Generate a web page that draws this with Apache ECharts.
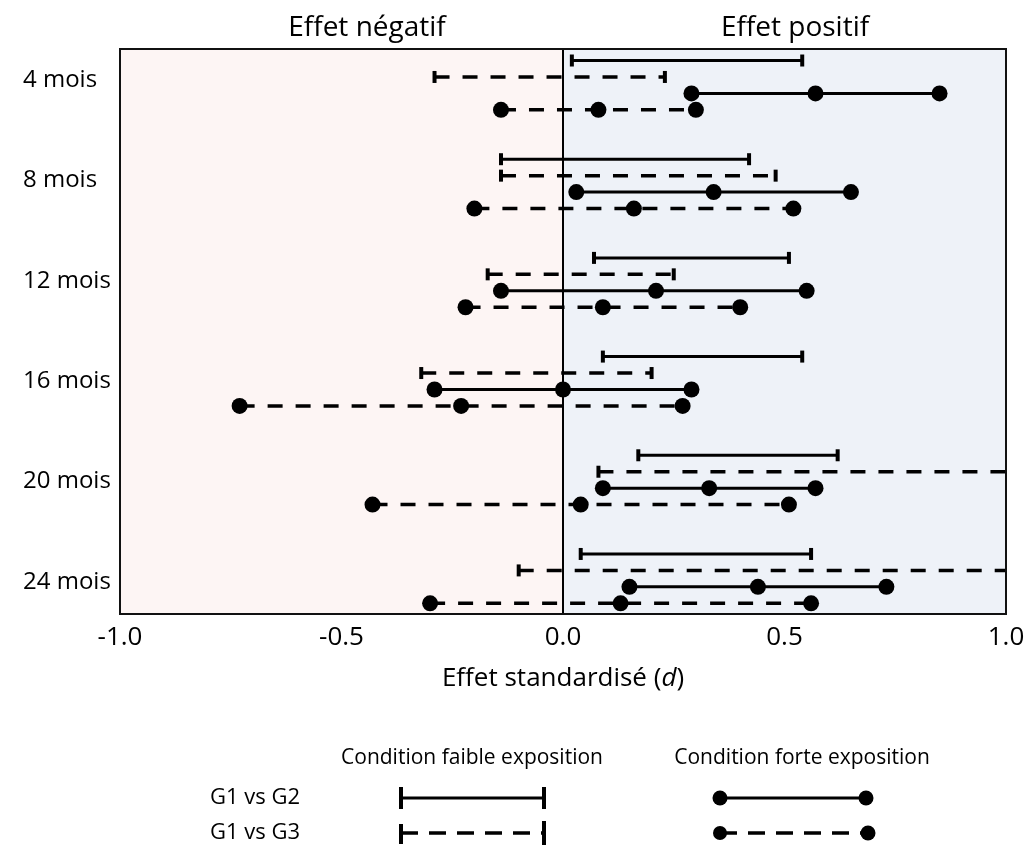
<!DOCTYPE html>
<html>
<head>
<meta charset="utf-8">
<script src="https://cdn.jsdelivr.net/npm/echarts@6/dist/echarts.min.js"></script>
<style>
html,body{margin:0;padding:0;background:#fff;}
#chart{width:1028px;height:851px;}
</style>
</head>
<body>
<div id="chart"></div>
<script>
// ---- data ----
const categories = ['4 mois','8 mois','12 mois','16 mois','20 mois','24 mois'];
const xTicks = ['-1.0','-0.5','0.0','0.5','1.0'];
// Condition faible exposition (intervals only)
const weakG2Low  = [0.02, -0.14, 0.07, 0.09, 0.17, 0.04];
const weakG2High = [0.54,  0.42, 0.51, 0.54, 0.62, 0.56];
const weakG3Low  = [-0.29, -0.14, -0.17, -0.32, 0.08, -0.10];
const weakG3High = [0.23,  0.48,  0.25,  0.20, 1.10, 1.10];
// Condition forte exposition (low, estimate, high)
const strongG2Low  = [0.29, 0.03, -0.14, -0.29, 0.09, 0.15];
const strongG2Mid  = [0.57, 0.34,  0.21,  0.00, 0.33, 0.44];
const strongG2High = [0.85, 0.65,  0.55,  0.29, 0.57, 0.73];
const strongG3Low  = [-0.14, -0.20, -0.22, -0.73, -0.43, -0.30];
const strongG3Mid  = [0.08,  0.16,  0.09, -0.23,  0.04,  0.13];
const strongG3High = [0.30,  0.52,  0.40,  0.27,  0.51,  0.56];

const FONT = '"Open Sans", "Noto Sans", sans-serif';
const ROWS_PER_GROUP = 6;

function rowOf(g, k){ return g*ROWS_PER_GROUP + k; }

function weakData(lo, hi, k){
  return categories.map((c,g)=>[lo[g], hi[g], rowOf(g,k)]);
}
function strongData(lo, mid, hi, k){
  return categories.map((c,g)=>[lo[g], mid[g], hi[g], rowOf(g,k)]);
}

function weakRender(dashed){
  return function(params, api){
    const y = api.value(2);
    const a = api.coord([api.value(0), y]);
    const b = api.coord([api.value(1), y]);
    const lw = dashed ? 3.5 : 3;
    const capH = 12;
    return {type:'group', children:[
      {type:'line', shape:{x1:a[0],y1:a[1],x2:b[0],y2:b[1]},
       style:{stroke:'#000', lineWidth:lw, lineDash: dashed?[15,13]:null}},
      {type:'line', shape:{x1:a[0],y1:a[1]-capH/2,x2:a[0],y2:a[1]+capH/2},
       style:{stroke:'#000', lineWidth:4}},
      {type:'line', shape:{x1:b[0],y1:b[1]-capH/2,x2:b[0],y2:b[1]+capH/2},
       style:{stroke:'#000', lineWidth:4}}
    ]};
  };
}
function strongRender(dashed){
  return function(params, api){
    const y = api.value(3);
    const a = api.coord([api.value(0), y]);
    const m = api.coord([api.value(1), y]);
    const b = api.coord([api.value(2), y]);
    const r = 8;
    const lw = dashed ? 3.5 : 3;
    return {type:'group', children:[
      {type:'line', shape:{x1:a[0],y1:a[1],x2:b[0],y2:b[1]},
       style:{stroke:'#000', lineWidth:lw, lineDash: dashed?[15,13]:null}},
      {type:'circle', shape:{cx:a[0],cy:a[1],r:r}, style:{fill:'#000'}},
      {type:'circle', shape:{cx:m[0],cy:m[1],r:r}, style:{fill:'#000'}},
      {type:'circle', shape:{cx:b[0],cy:b[1],r:r}, style:{fill:'#000'}}
    ]};
  };
}

const chart = echarts.init(document.getElementById('chart'), null, {renderer:'canvas'});

function txt(text, x, y, size, align){
  return {type:'text', style:{text:text, x:x, y:y, textAlign:align||'center', textVerticalAlign:'middle', fontSize:size, fontFamily:FONT, fill:'#000'}};
}

const option = {
  backgroundColor:'#fff',
  animation:false,
  grid:{left:120, right:22, top:49, bottom:237, show:true, borderColor:'#111', borderWidth:2, backgroundColor:'transparent', z:10},
  xAxis:{
    type:'value', min:-1, max:1, interval:0.5,
    axisLine:{show:false}, axisTick:{show:false},
    splitLine:{show:true, lineStyle:{color:'#c6d0e2', width:1.5}},
    axisLabel:{margin:11, fontSize:26, color:'#000', fontFamily:FONT,
      formatter:(v)=>xTicks[Math.round((v+1)/0.5)]},
    name:'Effet standardisé ({i|d})', nameLocation:'middle', nameGap:52,
    nameTextStyle:{fontSize:26, color:'#000', fontFamily:FONT,
      rich:{i:{fontSize:26, fontStyle:'italic', fontFamily:FONT, color:'#000'}}}
  },
  yAxis:{
    type:'value', inverse:true, min:-0.7, max:33.65,
    axisLine:{show:false}, axisTick:{show:false}, axisLabel:{show:false}, splitLine:{show:false}
  },
  graphic:[
    txt('Effet négatif', 367, 28, 28),
    txt('Effet positif', 795, 28, 28),
    // legend
    txt('Condition faible exposition', 472, 758, 21),
    txt('Condition forte exposition', 802, 758, 21),
    txt('G1 vs G2', 300, 798, 22, 'right'),
    txt('G1 vs G3', 300, 833, 22, 'right'),
    {type:'line', shape:{x1:401,y1:798,x2:544,y2:798}, style:{stroke:'#000', lineWidth:3}},
    {type:'line', shape:{x1:401,y1:787,x2:401,y2:809}, style:{stroke:'#000', lineWidth:4}},
    {type:'line', shape:{x1:544,y1:787,x2:544,y2:809}, style:{stroke:'#000', lineWidth:4}},
    {type:'line', shape:{x1:401,y1:833,x2:544,y2:833}, style:{stroke:'#000', lineWidth:3.5, lineDash:[17,11]}},
    {type:'line', shape:{x1:401,y1:824,x2:401,y2:844}, style:{stroke:'#000', lineWidth:4}},
    {type:'line', shape:{x1:544,y1:821,x2:544,y2:845}, style:{stroke:'#000', lineWidth:4}},
    {type:'line', shape:{x1:720,y1:798,x2:866,y2:798}, style:{stroke:'#000', lineWidth:3}},
    {type:'circle', shape:{cx:720,cy:798,r:7.5}, style:{fill:'#000'}},
    {type:'circle', shape:{cx:866,cy:798,r:7.5}, style:{fill:'#000'}},
    {type:'line', shape:{x1:720,y1:833,x2:868,y2:833}, style:{stroke:'#000', lineWidth:3.5, lineDash:[17,11]}},
    {type:'circle', shape:{cx:720,cy:833,r:7}, style:{fill:'#000'}},
    {type:'circle', shape:{cx:868,cy:833,r:7.5}, style:{fill:'#000'}}
  ],
  series:[
    {type:'line', data:[], silent:true, z:0,
      markArea:{silent:true, data:[
        [{xAxis:-1, itemStyle:{color:'#fdf5f4'}},{xAxis:0}],
        [{xAxis:0, itemStyle:{color:'#eef2f8'}},{xAxis:1}]
      ]},
      markLine:{silent:true, symbol:'none', label:{show:false},
        lineStyle:{color:'#000', width:2, type:'solid'}, data:[{xAxis:0}]}
    },
    {type:'custom', name:'labels', clip:false, silent:true,
      data: categories.map((c,g)=>[g]),
      renderItem:function(params, api){
        const g = api.value(0);
        const p = api.coord([-1, g*6.1 + 1.2]);
        return {type:'text', style:{text:categories[g], x:23, y:p[1], textAlign:'left', textVerticalAlign:'middle', fontSize:24, fontFamily:FONT, fill:'#000'}};
      }
    },
    {type:'custom', name:'G1 vs G2 faible', clip:true, z:5, data:weakData(weakG2Low, weakG2High, 0), renderItem:weakRender(false)},
    {type:'custom', name:'G1 vs G3 faible', clip:true, z:5, data:weakData(weakG3Low, weakG3High, 1), renderItem:weakRender(true)},
    {type:'custom', name:'G1 vs G2 forte', clip:true, z:5, data:strongData(strongG2Low, strongG2Mid, strongG2High, 2), renderItem:strongRender(false)},
    {type:'custom', name:'G1 vs G3 forte', clip:true, z:5, data:strongData(strongG3Low, strongG3Mid, strongG3High, 3), renderItem:strongRender(true)}
  ]
};
chart.setOption(option);
</script>
</body>
</html>
